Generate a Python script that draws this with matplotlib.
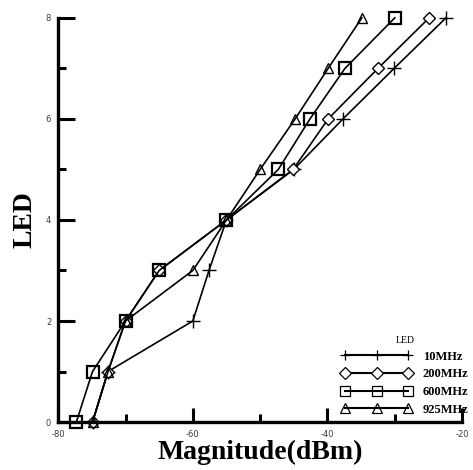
import matplotlib.pyplot as plt
from matplotlib.ticker import MultipleLocator

plt.rcParams['axes.unicode_minus'] = False

led = [0, 1, 2, 3, 4, 5, 6, 7, 8]
mag_10 = [-74.9, -72.6, -60.0, -57.6, -55.0, -45.0, -37.7, -30.1, -22.4]
mag_200 = [-74.9, -72.6, -70.0, -65.0, -55.0, -45.1, -39.9, -32.5, -24.9]
mag_600 = [-77.3, -74.9, -70.0, -65.0, -55.0, -47.3, -42.6, -37.4, -30.0]
mag_925 = [-74.9, -72.6, -70.0, -60.0, -55.0, -50.0, -44.8, -39.9, -34.9]
labels = ['10MHz', '200MHz', '600MHz', '925MHz']

fig = plt.figure(figsize=(4.73, 4.70), dpi=100)
ax = fig.add_axes([0.123, 0.102, 0.854, 0.860])

ax.plot(mag_10, led, color='black', lw=1.2, marker='+', ms=10, mew=1.0,
        label=labels[0], clip_on=False)
ax.plot(mag_200, led, color='black', lw=1.2, marker='D', ms=6, mew=1.0,
        mfc='white', label=labels[1], clip_on=False)
ax.plot(mag_600, led, color='black', lw=1.2, marker='s', ms=8, mew=1.6,
        mfc='none', label=labels[2], clip_on=False)
ax.plot(mag_925, led, color='black', lw=1.2, marker='^', ms=7, mew=1.0,
        mfc='none', label=labels[3], clip_on=False)

ax.set_xlim(-80, -20)
ax.set_ylim(0, 8)
for s in ['top', 'right']:
    ax.spines[s].set_visible(False)
for s in ['left', 'bottom']:
    ax.spines[s].set_linewidth(2.4)

ax.xaxis.set_major_locator(MultipleLocator(20))
ax.xaxis.set_minor_locator(MultipleLocator(10))
ax.yaxis.set_major_locator(MultipleLocator(2))
ax.yaxis.set_minor_locator(MultipleLocator(1))
ax.tick_params(axis='y', which='major', direction='in', length=12, width=2.2,
               labelsize=6, labelcolor='#3a3a4a', pad=5)
ax.tick_params(axis='y', which='minor', direction='in', length=6, width=2.2)
ax.tick_params(axis='x', which='major', direction='in', length=10, width=2.2,
               labelsize=6, labelcolor='#3a3a4a', pad=6)
ax.tick_params(axis='x', which='minor', direction='in', length=6, width=2.2)

ax.set_xlabel('Magnitude(dBm)', family='Liberation Serif', fontweight='bold',
              fontsize=20, labelpad=0)
ax.set_ylabel('LED', family='Liberation Serif', fontweight='bold',
              fontsize=20, labelpad=6)

leg = ax.legend(title='LED', loc='upper left', bbox_to_anchor=(0.722, 0.285),
                bbox_transform=fig.transFigure, frameon=False, numpoints=3,
                handlelength=5.6, handletextpad=0.9, labelspacing=0.45,
                borderpad=0, borderaxespad=0,
                prop={'family': 'Liberation Serif', 'weight': 'bold', 'size': 9},
                title_fontproperties={'family': 'Liberation Serif', 'size': 7})
for h in leg.legend_handles:
    h.set_linewidth(1.5)
    h.set_markeredgewidth(0.9)
    h.set_markersize(6.5)

fig.savefig('out.png', dpi=100)
